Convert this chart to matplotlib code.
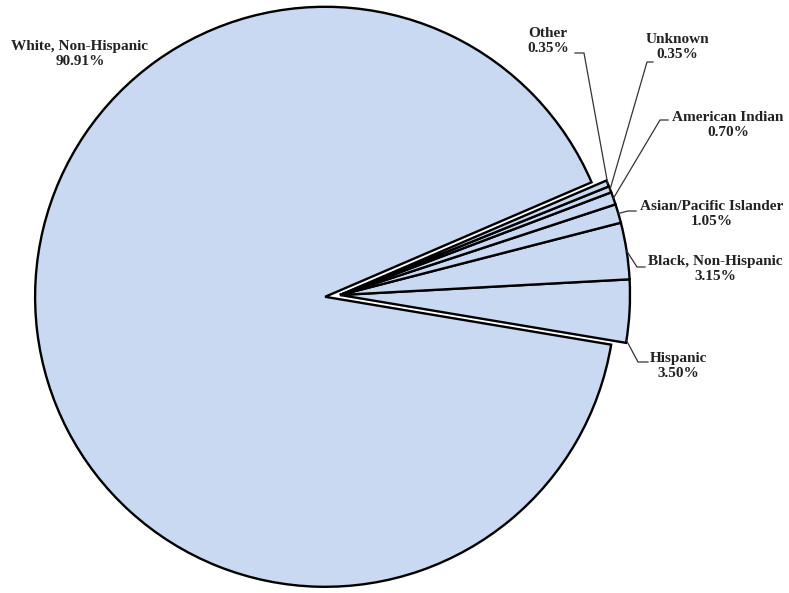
import numpy as np
import matplotlib.pyplot as plt

# data, counterclockwise from the Hispanic slice
labels = ['Hispanic', 'Black, Non-Hispanic', 'Asian/Pacific Islander',
          'American Indian', 'Unknown', 'Other', 'White, Non-Hispanic']
values = [3.50, 3.15, 1.05, 0.70, 0.35, 0.35, 90.91]

# label layout in pixel coords (x, y from top): text centre, elbow start, elbow end
text_pos = [(678, 366), (715, 269), (712, 214), (728, 125), (677, 47), (548, 41), (80, 54)]
elbow = [((648, 362), (638, 362)),
         ((645, 267), (637, 267)),
         ((636, 211), (628, 211)),
         ((668, 120), (660, 120)),
         ((653, 62), (647, 62)),
         ((575, 53), (584, 53)),
         None]
anchor_frac = [0.04, 0.5, 0.5, 0.5, 0.5, 0.5, 0.5]

W, H = 789, 593
fig = plt.figure(figsize=(W / 100, H / 100), dpi=100)
ax = fig.add_axes([0, 0, 1, 1])

cx, cy, R = 340, H - 295, 290
explode = [0, 0, 0, 0, 0, 0, 15]
wedges, _ = ax.pie(values, radius=R, center=(cx, cy), startangle=-9.5,
                   explode=explode, colors=['#cad9f2'] * len(values),
                   wedgeprops=dict(edgecolor='black', linewidth=1.7))

font = dict(family='Liberation Serif', fontweight='bold', fontsize=11, color='#222222')
for i, w in enumerate(wedges):
    tx, ty = text_pos[i]
    ax.text(tx, H - ty, '%s\n%.2f%%' % (labels[i], values[i]),
            ha='center', va='center', linespacing=1.25, **font)
    if elbow[i] is None:
        continue
    a = np.deg2rad(w.theta1 + anchor_frac[i] * (w.theta2 - w.theta1))
    px = w.center[0] + w.r * np.cos(a)
    py = w.center[1] + w.r * np.sin(a)
    (x0, y0), (x1, y1) = elbow[i]
    ax.plot([x0, x1, px], [H - y0, H - y1, py], color='#333333', lw=0.9)

ax.set_xlim(0, W)
ax.set_ylim(0, H)
ax.set_aspect('equal')
ax.axis('off')
fig.savefig('out.png', dpi=100, facecolor='white')
